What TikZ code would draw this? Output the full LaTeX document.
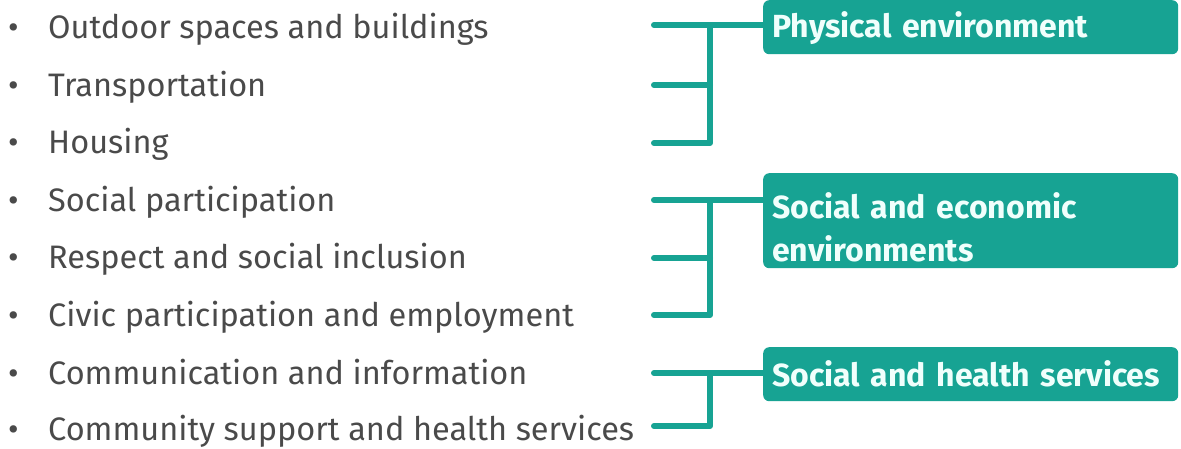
\documentclass[tikz,border=0pt]{standalone}
\usepackage{fontspec}
\setmainfont{Fira Sans}
\definecolor{teal1}{HTML}{17A393}
\definecolor{itemgray}{HTML}{4A4A4A}
\definecolor{boxtext}{HTML}{F0FFFC}
\begin{document}
\begin{tikzpicture}[x=1pt,y=-1pt,
  item/.style={anchor=base west,inner sep=0pt,text=itemgray,font=\fontsize{32.5}{40}\selectfont},
  catbox/.style={anchor=north west,fill=teal1,rounded corners=6pt,inner xsep=9pt,inner ysep=0pt,
     text width=397pt,align=left,text=boxtext,font=\bfseries\fontsize{32}{43}\selectfont},
  conn/.style={draw=teal1,line width=6pt,line cap=round,line join=round}]
\useasboundingbox (0,0) rectangle (1181,448);
% items
\foreach \n/\t/\y in {1/Outdoor spaces and buildings/27,2/Transportation/84.6,3/Housing/142.2,
  4/Social participation/199.8,5/Respect and social inclusion/257.4,6/Civic participation and employment/315,
  7/Communication and information/372.6,8/Community support and health services/429}{
  \node[item] (i\n) at (8,\y+11.5) {\makebox[40pt][l]{•}\t};
}
% category boxes
\node[catbox,minimum height=54pt] (b1) at (763,0) {\rule{0pt}{27pt}Physical environment};
\node[catbox,minimum height=95pt] (b2) at (763,173) {\rule{0pt}{40pt}Social and economic\\environments};
\node[catbox,minimum height=54pt] (b3) at (763,347) {Social and health services};
% connector endpoints
\foreach \n/\y in {1/25,2/85,3/143,4/200,5/258,6/315,7/373,8/426}{
  \coordinate (l\n) at (654,\y);
  \coordinate (j\n) at (710,\y);
}
% connectors
\draw[conn] (l1) -- (l1 -| b1.west);
\draw[conn] (l2) -- (j2);
\draw[conn] (l3) -- (j3) -- (j1);
\draw[conn] (l4) -- (l4 -| b2.west);
\draw[conn] (l5) -- (j5);
\draw[conn] (l6) -- (j6) -- (j4);
\draw[conn] (l7) -- (l7 -| b3.west);
\draw[conn] (l8) -- (j8) -- (j7);
\end{tikzpicture}
\end{document}
